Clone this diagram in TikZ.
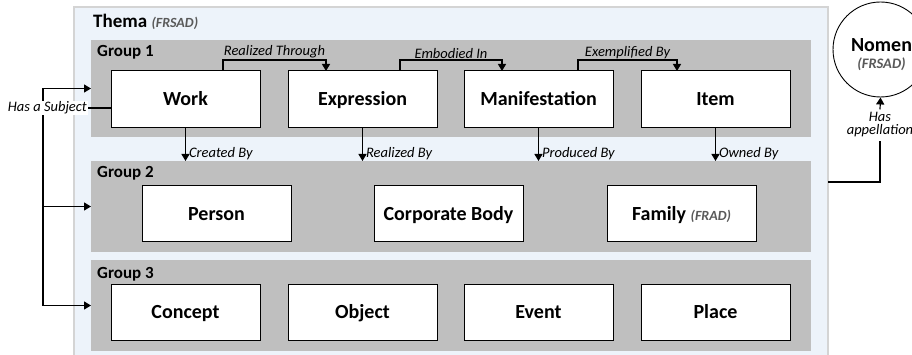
\documentclass[tikz,border=0pt]{standalone}
\usepackage{fontspec}
\setmainfont{Carlito}
\usetikzlibrary{arrows.meta,calc}
\definecolor{panelblue}{HTML}{EDF3FA}
\definecolor{groupgray}{HTML}{BFBFBF}
\definecolor{paneledge}{HTML}{D4D4D4}
\definecolor{notegray}{HTML}{595959}
\begin{document}
\begin{tikzpicture}[x=1pt,y=-1pt,
  panel/.style={draw=paneledge, line width=1.5pt, fill=panelblue, anchor=north west, inner sep=0, outer sep=0},
  groupbox/.style={fill=groupgray, anchor=north west, inner sep=0, outer sep=0},
  grouptitle/.style={anchor=base west, inner sep=0, font=\fontsize{17}{20}\selectfont\bfseries},
  entity/.style={draw=black, line width=1pt, fill=white, anchor=north west, inner sep=0, outer sep=0,
    minimum width=149pt, text height=17pt, text depth=4pt, font=\fontsize{20}{24}\selectfont\bfseries},
  lbl/.style={font=\fontsize{14.5}{17}\selectfont\itshape, inner sep=1pt},
  note/.style={font=\fontsize{14}{17}\selectfont\bfseries\itshape, text=notegray},
  arr/.style={-{Triangle[length=7pt,width=8pt]}, line width=1.2pt},
  plain/.style={line width=1.2pt}
]
\useasboundingbox (0,0) rectangle (912,355);

% panel
\node[panel, minimum width=754pt, minimum height=350pt] (thema) at (74,7) {};
\node[anchor=base west, inner sep=0, font=\fontsize{19}{22}\selectfont\bfseries] (thematitle) at (93,28)
  {Thema {\fontsize{14}{17}\selectfont\itshape\color{notegray}(FRSAD)}};

% groups
\node[groupbox, minimum width=720pt, minimum height=97pt] (g1) at (91,40) {};
\node[groupbox, minimum width=720pt, minimum height=91pt] (g2) at (91,161) {};
\node[groupbox, minimum width=720pt, minimum height=91pt] (g3) at (91,260) {};
\node[grouptitle] (g1t) at (97,57) {Group 1};
\node[grouptitle] (g2t) at (97,178) {Group 2};
\node[grouptitle] (g3t) at (97,278) {Group 3};

% group 1 entities
\node[entity, minimum height=57pt] (work) at (111,71) {Work};
\node[entity, minimum height=57pt] (expr) at (288,71) {Expression};
\node[entity, minimum height=57pt] (manif) at (464,71) {Manifestation};
\node[entity, minimum height=57pt] (item) at (641,71) {Item};

% group 2 entities
\node[entity, minimum height=56pt] (person) at (142,186) {Person};
\node[entity, minimum height=56pt] (corp) at (374,186) {Corporate Body};
\node[entity, minimum height=56pt] (family) at (607,186)
  {Family {\fontsize{14}{17}\selectfont\itshape\color{notegray}(FRAD)}};

% group 3 entities
\node[entity, minimum height=56pt] (concept) at (111,284) {Concept};
\node[entity, minimum height=56pt] (object) at (288,284) {Object};
\node[entity, minimum height=56pt] (event) at (464,284) {Event};
\node[entity, minimum height=56pt] (place) at (641,284) {Place};

% horizontal relations in group 1
\draw[arr] ([xshift=112pt]work.north west) -- ++(0,-11) -| node[lbl, above, pos=0.25] {Realized Through} ([xshift=38pt]expr.north west);
\draw[arr] ([xshift=112pt]expr.north west) -- ++(0,-11) -| node[lbl, above, pos=0.25] {Embodied In} ([xshift=38pt]manif.north west);
\draw[arr] ([xshift=114pt]manif.north west) -- ++(0,-11) -| node[lbl, above, pos=0.25] {Exemplified By} ([xshift=36pt]item.north west);

% vertical relations to group 2
\draw[arr] (work.south) -- (work.south |- g2.north) node[lbl, anchor=south west, xshift=2pt] {Created By};
\draw[arr] (expr.south) -- (expr.south |- g2.north) node[lbl, anchor=south west, xshift=2pt] {Realized By};
\draw[arr] (manif.south) -- (manif.south |- g2.north) node[lbl, anchor=south west, xshift=2pt] {Produced By};
\draw[arr] (item.south) -- (item.south |- g2.north) node[lbl, anchor=south west, xshift=2pt] {Owned By};

% has a subject
\coordinate (bus) at (43,0);
\draw[plain] (bus |- g1.west) -- (bus |- g3.west);
\draw[arr] (bus |- g1.west) -- (g1.west);
\draw[arr] (bus |- g2.west) -- (g2.west);
\draw[arr] (bus |- g3.west) -- (g3.west);
\node[lbl, fill=white, anchor=east, inner sep=1pt] (subj) at (88,108) {Has a Subject};
\draw[plain] ([yshift=-8.5pt]work.west) -- (subj.east);

% nomen
\node[circle, draw=black, line width=0.9pt, fill=white, minimum size=95pt, inner sep=0] (nomen) at (880.5,49.5) {};
\node[align=center, inner sep=0, font=\fontsize{20}{17}\selectfont\bfseries] (nomentext) at (881.5,55)
  {Nomen\\{\fontsize{14.5}{17}\selectfont\itshape\color{notegray}(FRSAD)}};
\node[lbl, align=center, inner sep=3pt, font=\fontsize{14.5}{13}\selectfont\itshape] (hasapp) at (880,125) {Has\\appellation};
\draw[arr] (hasapp.north) -- (nomen.south);
\draw[plain] (thema.east) -| (hasapp.south);
\end{tikzpicture}
\end{document}
